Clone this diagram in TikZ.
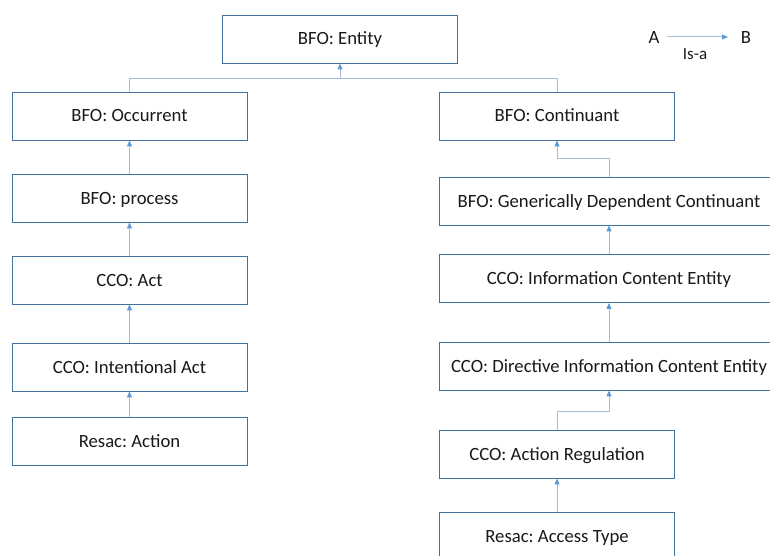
\documentclass[tikz,border=0pt]{standalone}
\usepackage{fontspec}
\setmainfont{Carlito}
\frenchspacing
\usetikzlibrary{arrows.meta}
\definecolor{boxline}{HTML}{41719C}
\definecolor{conn}{HTML}{A7BBD6}
\definecolor{tip}{HTML}{5B9BD5}
\begin{document}
\begin{tikzpicture}[x=1pt,y=-1pt,
  cls/.style={draw=boxline,line width=0.9pt,fill=white,minimum height=48pt,inner sep=0pt,text height=12pt,text depth=-1pt,font=\fontsize{18.7}{22}\selectfont,text=black!90},
  narrow/.style={cls,minimum width=235pt},
  wide/.style={cls,minimum width=340pt},
  lbl/.style={font=\fontsize{18.7}{22}\selectfont,text=black!90,inner sep=0pt},
  isa/.style={draw=conn,line width=1pt,-{Triangle[length=6pt,width=5pt,color=tip,fill=tip]}}]
\useasboundingbox (0,0) rectangle (770,556);
\frenchspacing
\node[narrow] (entity) at (340,39) {BFO: Entity};
\node[narrow] (occ) at (129.5,116) {BFO: Occurrent};
\node[narrow] (cont) at (557,116) {BFO: Continuant};
\node[narrow] (proc) at (129.5,198) {BFO: process};
\node[narrow] (act) at (129.5,280) {CCO: Act};
\node[narrow] (iact) at (129.5,367) {CCO: Intentional Act};
\node[narrow] (raction) at (129.5,441) {Resac: Action};
\node[wide] (gdc) at (609,201) {BFO: Generically Dependent Continuant};
\node[wide] (ice) at (609,278.5) {CCO: Information Content Entity};
\node[wide] (dice) at (609,366) {CCO: Directive Information Content Entity};
\node[narrow] (areg) at (557,454) {CCO: Action Regulation};
\node[narrow] (atype) at (557,536) {Resac: Access Type};
\coordinate (j1) at (340,79);
\draw[isa] (occ.north) |- (j1) -- (entity.south);
\draw[draw=conn,line width=1pt] (cont.north) |- (j1);
\draw[isa] (proc) -- (occ);
\draw[isa] (act) -- (proc);
\draw[isa] (iact) -- (act);
\draw[isa] (raction) -- (iact);
\coordinate (j2) at (609,159);
\draw[isa] (gdc.north) -- (j2) -| (cont.south);
\draw[isa] (ice) -- (gdc);
\draw[isa] (dice) -- (ice);
\coordinate (j3) at (557,411);
\draw[isa] (areg.north) -- (j3) -| (dice.south);
\draw[isa] (atype) -- (areg);
\node[lbl] (la) at (654,38) {A};
\node[lbl] (lb) at (746,38) {B};
\coordinate (ls) at (667,37);
\coordinate (le) at (728,37);
\draw[isa] (ls) -- (le);
\node[lbl,font=\fontsize{17}{20}\selectfont] (lisa) at (695,54) {Is-a};
\end{tikzpicture}
\end{document}
